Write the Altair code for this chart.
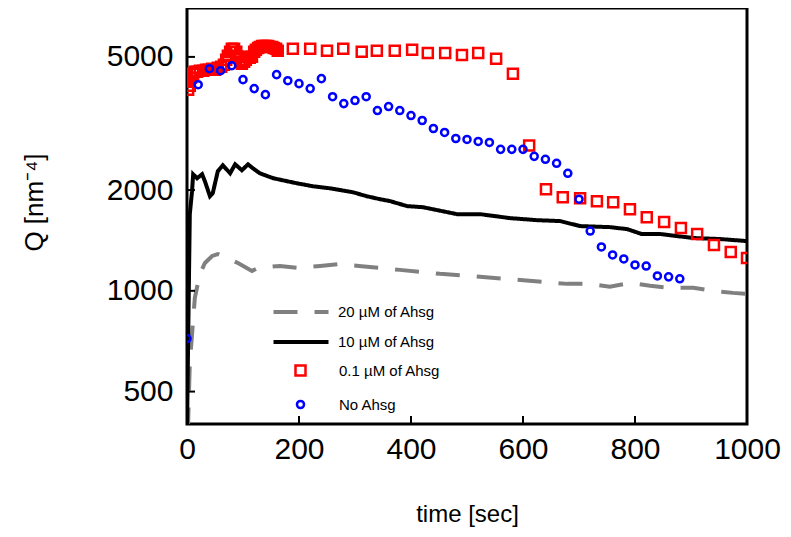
import altair as alt
import pandas as pd

FONT = "Liberation Sans"

# ---- data ----
gray_t = [0, 2, 5, 14, 23, 32, 45, 55, 71, 91, 116, 127, 166, 198, 238, 273, 307, 343, 380, 452, 523, 595, 679, 720, 755, 791, 827, 863, 904, 939, 975, 1000]
gray_q = [380, 402, 606, 953, 1124, 1211, 1271, 1288, 1254, 1211, 1147, 1171, 1187, 1171, 1187, 1203, 1187, 1171, 1155, 1124, 1101, 1078, 1049, 1049, 1028, 1056, 1035, 1021, 1021, 1000, 986, 980]

black_t = [0, 2, 5, 9, 11, 18, 27, 32, 41, 46, 55, 64, 77, 86, 98, 109, 118, 130, 154, 196, 225, 255, 296, 321, 345, 363, 393, 421, 482, 523, 577, 625, 666, 702, 755, 786, 812, 845, 904, 952, 1000]
black_q = [380, 700, 1695, 1985, 2229, 2170, 2229, 2125, 1917, 1958, 2276, 2372, 2245, 2388, 2292, 2388, 2322, 2245, 2170, 2096, 2053, 2025, 1971, 1917, 1878, 1853, 1791, 1778, 1695, 1695, 1649, 1626, 1616, 1561, 1550, 1529, 1478, 1478, 1438, 1428, 1408]

red_t = [0, 2, 4, 5, 7, 11, 14, 18, 23, 29, 34, 39, 45, 50, 55, 61, 66, 70, 73, 77, 80, 84, 88, 91, 95, 98, 102, 105, 109, 112, 116, 120, 123, 127, 130, 134, 138, 141, 145, 148, 152, 155, 159, 162,
         189, 220, 250, 279, 312, 339, 371, 402, 430, 461, 491, 520, 552, 582, 611, 641, 671, 702, 732, 761, 791, 821, 852, 882, 911, 941, 971, 1000]
red_q = [4260, 3992, 4217, 4103, 4334, 4455, 4518, 4518, 4548, 4548, 4580, 4580, 4611, 4580, 4643, 4675, 4740, 4900, 5036, 5178, 5285, 5285, 5178, 5002, 4840, 4772, 4840, 4900, 5002, 4968, 5002, 5178, 5250, 5320, 5356, 5393, 5393, 5393, 5393, 5356, 5356, 5320, 5285, 5215,
         5285, 5285, 5215, 5285, 5180, 5215, 5215, 5250, 5140, 5140, 5070, 5140, 4935, 4455, 2720, 2012, 1905, 1890, 1853, 1840, 1754, 1660, 1605, 1540, 1478, 1370, 1306, 1253]

blue_t = [0, 20, 40, 60, 80, 100, 120, 140, 160, 180, 200, 220, 240, 260, 280, 300, 320, 340, 360, 380, 400, 420, 440, 460, 480, 500, 520, 540, 560, 580, 600, 620, 640, 660, 680, 700, 720, 740, 760, 780, 800, 820, 840, 860, 880]
blue_q = [720, 4130, 4610, 4548, 4706, 4276, 4020, 3857, 4426, 4246, 4160, 4020, 4305, 3803, 3626, 3702, 3803, 3457, 3553, 3457, 3340, 3228, 3055, 2973, 2852, 2833, 2794, 2775, 2647, 2647, 2647, 2522, 2472, 2404, 2245, 1878, 1509, 1352, 1280, 1245, 1195, 1186, 1108, 1101, 1086]

line_series = ["20 µM of Ahsg", "10 µM of Ahsg"]
point_series = ["0.1 µM of Ahsg", "No Ahsg"]
x_ticks = [0, 200, 400, 600, 800, 1000]
y_ticks = [500, 1000, 2000, 5000]
x_inner_ticks = [200, 400, 600, 800]

lines_df = pd.concat([
    pd.DataFrame({"t": gray_t, "q": gray_q, "series": line_series[0]}),
    pd.DataFrame({"t": black_t, "q": black_q, "series": line_series[1]}),
])
points_df = pd.concat([
    pd.DataFrame({"t": red_t, "q": red_q, "series": point_series[0]}),
    pd.DataFrame({"t": blue_t, "q": blue_q, "series": point_series[1]}),
])
ytick_df = pd.DataFrame({"q": y_ticks})
xtick_df = pd.DataFrame({"t": x_inner_ticks})

x_scale = alt.Scale(domain=[0, 1000], nice=False, zero=False)
y_scale = alt.Scale(type="log", domain=[400, 7000], nice=False)

x_axis = alt.Axis(values=x_ticks, format="d", title="time [sec]", ticks=False, domain=False, grid=False,
                  labelFontSize=30, labelFont=FONT, labelColor="black", labelPadding=10,
                  labelFlush=False, labelOverlap=False,
                  titleFontSize=24, titleFont=FONT, titleFontWeight="normal", titleColor="black",
                  titleY=90, titleBaseline="middle")
y_axis = alt.Axis(values=y_ticks, format="d", title="Q [nm⁻⁴]", ticks=False, domain=False, grid=False,
                  labelFontSize=30, labelFont=FONT, labelColor="black", labelPadding=14,
                  labelOverlap=False, labelBaseline="middle",
                  titleFontSize=26, titleFont=FONT, titleFontWeight="normal", titleColor="black",
                  titleX=-153, titleY=194, titleBaseline="middle", titleAlign="center", titleAngle=-90)

line_legend = alt.Legend(title=None, orient="none", legendX=101, legendY=291,
                         symbolType="M-2.5,0H2.5", symbolSize=484, symbolStrokeWidth=4,
                         labelFontSize=15, labelFont=FONT, labelFontWeight="normal", labelColor="black", labelOffset=24,
                         padding=0, rowPadding=9)
pt_legend = alt.Legend(title=None, orient="none", legendX=106, legendY=355,
                       symbolSize=80, symbolStrokeWidth=2.5, symbolFillColor="transparent",
                       labelFontSize=15, labelFont=FONT, labelFontWeight="normal", labelColor="black", labelOffset=31,
                       padding=0, rowPadding=14)

X = alt.X("t:Q", scale=x_scale, axis=x_axis)
Y = alt.Y("q:Q", scale=y_scale, axis=y_axis)

lines = alt.Chart(lines_df).mark_line(strokeWidth=4, clip=True).encode(
    x=X, y=Y,
    color=alt.Color("series:N", scale=alt.Scale(domain=line_series, range=["#808080", "#000000"]), legend=line_legend),
    strokeDash=alt.StrokeDash("series:N", scale=alt.Scale(domain=line_series, range=[[24, 17], [1, 0]]), legend=line_legend),
)

points = alt.Chart(points_df).mark_point(filled=False, strokeWidth=2.5, opacity=1, clip=True).encode(
    x=X, y=Y,
    color=alt.Color("series:N", scale=alt.Scale(domain=point_series, range=["#ff0000", "#0000ff"]), legend=pt_legend),
    shape=alt.Shape("series:N", scale=alt.Scale(domain=point_series, range=["square", "circle"]), legend=pt_legend),
    size=alt.Size("series:N", scale=alt.Scale(domain=point_series, range=[100, 50]), legend=None),
)

yticks = alt.Chart(ytick_df).mark_rule(color="black", strokeWidth=2).encode(
    y=Y, x=alt.value(0), x2=alt.value(8))
xticks = alt.Chart(xtick_df).mark_rule(color="black", strokeWidth=2).encode(
    x=X, y=alt.value(416), y2=alt.value(408))

chart = alt.layer(lines, points, yticks, xticks).resolve_scale(
    color="independent", shape="independent", strokeDash="independent", size="independent"
).properties(
    width=560, height=416,
    autosize=alt.AutoSizeParams(type="none"),
    padding={"left": 179, "top": 0, "right": 34, "bottom": 105},
    background="white",
).configure_view(stroke="black", strokeWidth=3)

chart.save("out.html", embed_options={"renderer": "svg", "actions": False})
